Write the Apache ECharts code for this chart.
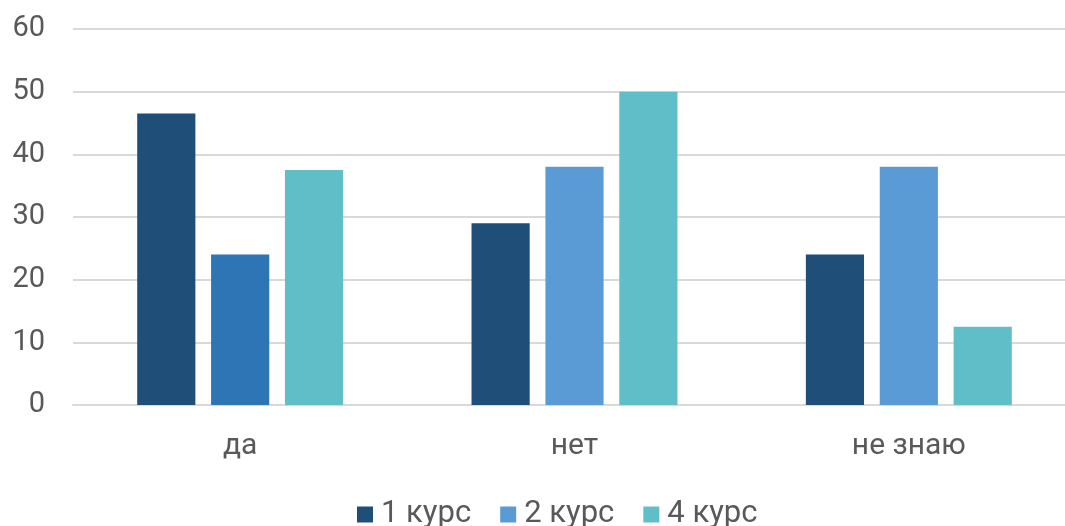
<!DOCTYPE html>
<html>
<head>
<meta charset="utf-8">
<script src="https://cdn.jsdelivr.net/npm/echarts@6/dist/echarts.min.js"></script>
<style>
html,body{margin:0;padding:0;background:#fff;}
#c{width:1065px;height:526px;}
</style>
</head>
<body>
<div id="c"></div>
<script>
var categories = ['да', 'нет', 'не знаю'];
var seriesNames = ['1 курс', '2 курс', '4 курс'];
var course1 = [46.5, 29, 24];
var course2 = [24, 38, 38];
var course4 = [37.5, 50, 12.5];
var yTicks = [0, 10, 20, 30, 40, 50, 60];

var colors = ['#1F4E79', '#5B9BD5', '#60BEC8'];
var course2Special = '#2E75B6';

var chart = echarts.init(document.getElementById('c'));
var font = 'Roboto';
var textColor = '#595959';

chart.setOption({
  animation: false,
  color: colors,
  grid: { left: 73, width: 1003, top: 29, bottom: 121, containLabel: false, outerBoundsMode: 'none' },
  legend: {
    data: seriesNames,
    bottom: -9,
    left: 352,
    icon: 'rect',
    itemWidth: 16,
    itemHeight: 16,
    itemGap: 29,
    textStyle: { fontFamily: font, fontSize: 31, color: textColor, padding: [0, 0, 0, 3] }
  },
  xAxis: {
    type: 'category',
    data: categories,
    axisLine: { show: true, lineStyle: { color: '#d9d9d9', width: 2 } },
    axisTick: { show: false },
    axisLabel: { fontFamily: font, fontSize: 30, color: textColor, margin: 26 }
  },
  yAxis: {
    type: 'value',
    min: yTicks[0],
    max: yTicks[yTicks.length - 1],
    interval: 10,
    axisLine: { show: false },
    axisTick: { show: false },
    splitLine: { lineStyle: { color: '#d9d9d9', width: 2 } },
    axisLabel: { fontFamily: font, fontSize: 29, color: textColor, margin: 28 }
  },
  series: [
    { name: seriesNames[0], type: 'bar', data: course1, barGap: '27%', barCategoryGap: '38.4%' },
    { name: seriesNames[1], type: 'bar', data: course2.map(function (v, i) {
        return i === 0 ? { value: v, itemStyle: { color: course2Special } } : v;
      }) },
    { name: seriesNames[2], type: 'bar', data: course4 }
  ]
});
</script>
</body>
</html>
